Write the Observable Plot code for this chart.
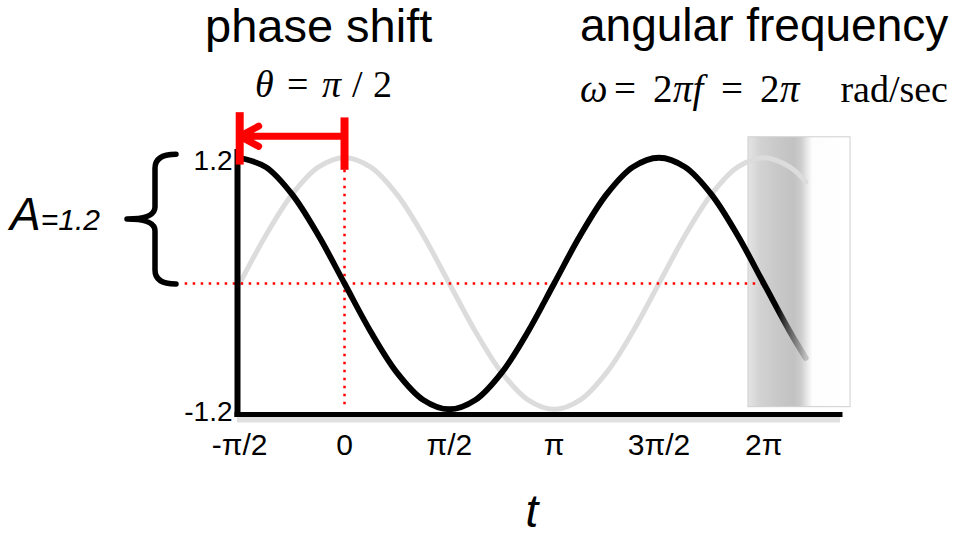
<!DOCTYPE html>
<html><head><meta charset="utf-8">
<script src="https://cdn.jsdelivr.net/npm/d3@7"></script>
<script src="https://cdn.jsdelivr.net/npm/@observablehq/plot@0.6"></script>
<style>html,body{margin:0;padding:0;background:#fff;} #chart{width:965px;height:536px;}</style>
</head><body><div id="chart"></div>
<script>
// angle t in units of π
const tPi = [-0.5,-0.375,-0.25,-0.125,0,0.125,0.25,0.375,0.5,0.625,0.75,0.875,1,1.125,1.25,1.375,1.5,1.625,1.75,1.875,2,2.125,2.2];
const greyWave  = [0,0.46,0.85,1.11,1.2,1.11,0.85,0.46,0,-0.46,-0.85,-1.11,-1.2,-1.11,-0.85,-0.46,0,0.46,0.85,1.11,1.2,1.11,0.97];
const blackWave = [1.2,1.11,0.85,0.46,0,-0.46,-0.85,-1.11,-1.2,-1.11,-0.85,-0.46,0,0.46,0.85,1.11,1.2,1.11,0.85,0.46,0,-0.46,-0.71];
const xTickValues = [-0.5,0,0.5,1,1.5,2];
const xTickLabels = ["-π/2","0","π/2","π","3π/2","2π"];
const yTickValues = [1.2,-1.2];
const yTickLabels = ["1.2","-1.2"];
const xDomain = [-0.5105, 2.366];
const yDomain = [-1.25, 1.25];
const phaseBarT = [-0.5, 0];
const phaseBarTop = [1.63, 1.58];
const phaseBarBottom = [1.13, 1.08];
const phaseArrow = {from: 0, to: -0.5, level: 1.405};
const amplitude = 1.2;
const guideH = {level: 0, from: -0.76, to: 2.02};
const guideV = {at: 0, from: 1.08, to: -1.2};
const fadeBand = {x1: 1.927, x2: 2.414, y1: -1.18, y2: 1.395};

const waves = tPi.map((t, i) => ({t, grey: greyWave[i], black: blackWave[i]}));
const RED = "#ff0000";

const plot = Plot.plot({
  width: 965, height: 536,
  marginLeft: 237, marginRight: 125, marginTop: 152, marginBottom: 122,
  style: {fontFamily: "'Liberation Sans', Arial, sans-serif", background: "#fff", overflow: "visible"},
  x: {domain: xDomain, axis: null},
  y: {domain: yDomain, axis: null},
  marks: [
    Plot.rect([fadeBand], {x1: "x1", x2: "x2", y1: "y1", y2: "y2", fill: "url(#bandGrad)", stroke: "#cfcfcf", strokeWidth: 1}),
    Plot.ruleY([yDomain[0]], {y: d => d, x1: xDomain[0], x2: xDomain[1], stroke: "#000", strokeOpacity: 0.12, strokeWidth: 6, dy: 5}),
    Plot.line(waves, {x: "t", y: "grey", stroke: "#dcdcdc", strokeWidth: 5, curve: "catmull-rom"}),
    Plot.ruleY([guideH], {y: "level", x1: "from", x2: "to", stroke: RED, strokeWidth: 2.5, strokeDasharray: "2.5,5.5"}),
    Plot.ruleX([guideV], {x: "at", y1: "from", y2: "to", stroke: RED, strokeWidth: 2.5, strokeDasharray: "2.5,5.5"}),
    Plot.line(waves, {x: "t", y: "black", stroke: "url(#blackFade)", strokeWidth: 5.8, curve: "catmull-rom"}),
    Plot.ruleX([xDomain[0]], {x: d => d, y1: yDomain[0], y2: yDomain[1], stroke: "#000", strokeWidth: 6, strokeLinecap: "square"}),
    Plot.ruleY([yDomain[0]], {y: d => d, x1: xDomain[0], x2: xDomain[1], stroke: "#000", strokeWidth: 5, strokeLinecap: "square"}),
    Plot.ruleX(phaseBarT, {x: d => d, y1: (d, i) => phaseBarBottom[i], y2: (d, i) => phaseBarTop[i], stroke: RED, strokeWidth: 8}),
    Plot.arrow([phaseArrow], {x1: "from", x2: "to", y1: "level", y2: "level", stroke: RED, strokeWidth: 7, headLength: 4.6, headAngle: 56, inset: 0, strokeLinecap: "round", strokeLinejoin: "round"}),
    Plot.text(xTickValues, {x: d => d, text: (d, i) => xTickLabels[i], frameAnchor: "bottom", dy: 40, fontSize: 30, fill: "#000"}),
    Plot.text(yTickValues, {y: d => d, text: (d, i) => yTickLabels[i], frameAnchor: "left", textAnchor: "end", dx: -5, dy: 3, fontSize: 28, fill: "#000"})
  ]
});
document.getElementById("chart").appendChild(plot);

const svg = d3.select(plot);
const xs = plot.scale("x"), ys = plot.scale("y");
const Y = v => ys.apply(v);
const defs = svg.insert("defs", ":first-child");
const bg = defs.append("linearGradient").attr("id", "bandGrad").attr("x1", 0).attr("x2", 1).attr("y1", 0).attr("y2", 0);
[[0,"#e4e4e4"],[0.12,"#d2d2d2"],[0.3,"#c8c8c8"],[0.45,"#c2c2c2"],[0.52,"#cdcdcd"],[0.58,"#e8e8e8"],[0.63,"#fdfdfd"],[1,"#ffffff"]]
  .forEach(([o,c]) => bg.append("stop").attr("offset", o).attr("stop-color", c));
const bf = defs.append("linearGradient").attr("id", "blackFade").attr("x1", 0).attr("x2", 1).attr("y1", 0).attr("y2", 0);
[[0,"#000",1],[0.95,"#000",1],[1,"#777",0.35]]
  .forEach(([o,c,a]) => bf.append("stop").attr("offset", o).attr("stop-color", c).attr("stop-opacity", a));

// amplitude brace, spanning 0 .. A
const left = xs.range[0];
const yT = Y(amplitude) - 3, yB = Y(0) + 1, yM = (yT + yB) / 2;
const sp = left - 82, arm = left - 61, nib = left - 110;
svg.append("path")
  .attr("d", `M${arm},${yT} Q${sp},${yT} ${sp},${yT+14} L${sp},${yM-12} Q${sp},${yM} ${nib},${yM} Q${sp},${yM} ${sp},${yM+12} L${sp},${yB-14} Q${sp},${yB} ${arm},${yB}`)
  .attr("fill", "none").attr("stroke", "#000").attr("stroke-width", 5.5).attr("stroke-linecap", "round").attr("stroke-linejoin", "round");

const SANS = "'Liberation Sans', Arial, sans-serif";
const SERIF = "'Liberation Serif', 'Times New Roman', serif";
function txt(x, y, s, opts = {}) {
  const t = svg.append("text").attr("x", x).attr("y", y).attr("text-anchor", opts.anchor || "start")
    .attr("font-family", opts.family || SANS).attr("font-size", opts.size || 46).attr("fill", "#000");
  if (opts.italic) t.attr("font-style", "italic");
  t.text(s);
  return t;
}
txt(205, 42, "phase shift", {size: 47});
txt(580, 41, "angular frequency", {size: 46});

// θ = π / 2
txt(255, 97, "θ", {family: SERIF, size: 38, italic: true});
txt(287, 97, "=", {family: SERIF, size: 38});
txt(322, 97, "π", {family: SERIF, size: 38, italic: true});
txt(352, 97, "/", {family: SERIF, size: 38});
txt(373, 97, "2", {family: SERIF, size: 38});

// ω = 2πf = 2π rad/sec
txt(580, 102, "ω", {family: SERIF, size: 39, italic: true});
txt(614, 102, "=", {family: SERIF, size: 39});
txt(653, 102, "2", {family: SERIF, size: 39});
txt(673, 102, "πf", {family: SERIF, size: 39, italic: true});
txt(721, 102, "=", {family: SERIF, size: 39});
txt(760, 102, "2", {family: SERIF, size: 39});
txt(780, 102, "π", {family: SERIF, size: 39, italic: true});
txt(948, 102, "rad/sec", {family: SERIF, size: 38, anchor: "end"});

const a = svg.append("text").attr("x", 10).attr("y", 230).attr("text-anchor", "start").attr("font-family", SANS).attr("font-style", "italic").attr("fill", "#000");
a.append("tspan").attr("font-size", 46).text("A");
a.append("tspan").attr("font-size", 30).text("=1.2");

txt(532, 527, "t", {size: 46, italic: true, anchor: "middle"});
</script></body></html>
